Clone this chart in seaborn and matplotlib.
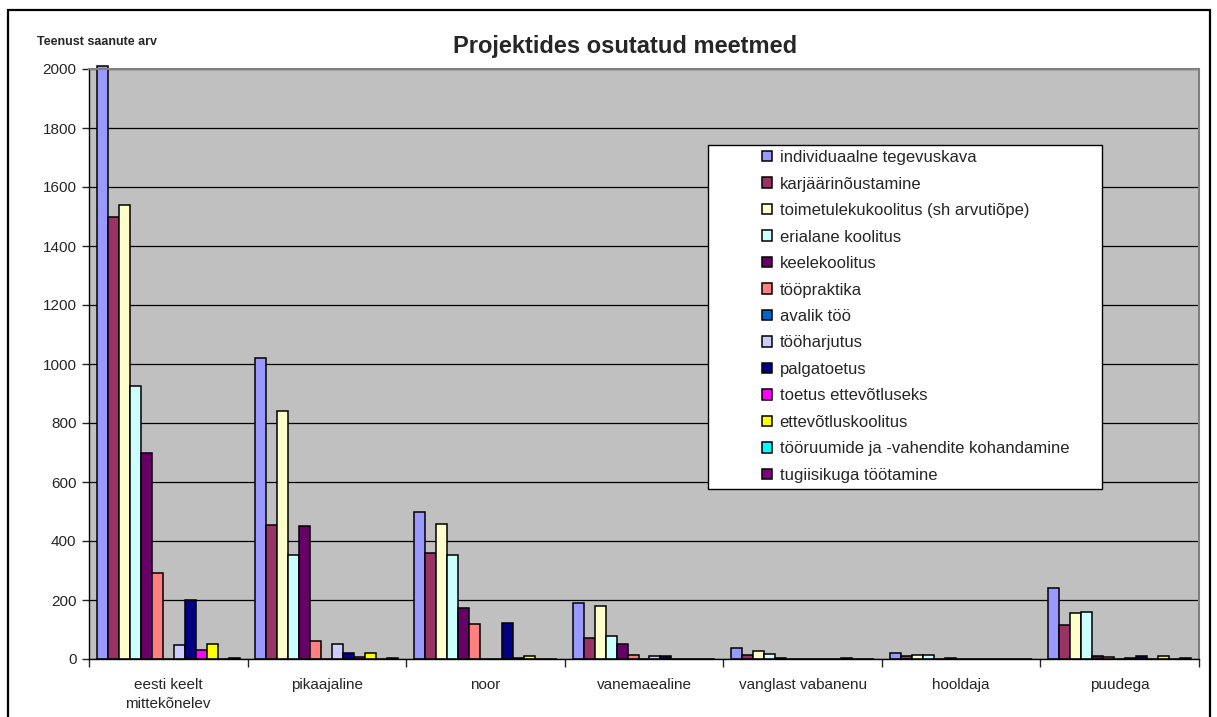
import pandas as pd
import matplotlib.pyplot as plt
from matplotlib.patches import Rectangle
import seaborn as sns

# categories (target groups) and series (services)
kategooriad = ['eesti keelt\nmittekõnelev', 'pikaajaline', 'noor', 'vanemaealine',
               'vanglast vabanenu', 'hooldaja', 'puudega']

individuaalne = [2010, 1020, 500, 190, 36, 20, 240]
karjaar = [1500, 455, 358, 70, 15, 10, 115]
toimetulek = [1540, 840, 458, 178, 26, 15, 157]
erialane = [925, 353, 353, 78, 16, 12, 159]
keele = [700, 450, 174, 52, 5, 0, 10]
toopraktika = [292, 62, 119, 15, 0, 3, 8]
avalik = [0, 0, 0, 0, 0, 0, 0]
tooharjutus = [48, 52, 0, 9, 0, 0, 3]
palgatoetus = [200, 20, 121, 11, 0, 0, 11]
toetus_ettev = [30, 8, 3, 0, 0, 0, 0]
ettev_koolitus = [52, 20, 10, 0, 3, 0, 9]
tooruumid = [0, 0, 0, 0, 0, 0, 0]
tugiisik = [4, 4, 0, 0, 0, 0, 5]

meetmed = ['individuaalne tegevuskava', 'karjäärinõustamine',
           'toimetulekukoolitus (sh arvutiõpe)', 'erialane koolitus',
           'keelekoolitus', 'tööpraktika', 'avalik töö', 'tööharjutus',
           'palgatoetus', 'toetus ettevõtluseks', 'ettevõtluskoolitus',
           'tööruumide ja -vahendite kohandamine', 'tugiisikuga töötamine']
seeriad = [individuaalne, karjaar, toimetulek, erialane, keele, toopraktika,
           avalik, tooharjutus, palgatoetus, toetus_ettev, ettev_koolitus,
           tooruumid, tugiisik]
varvid = ['#9999FF', '#993366', '#FFFFCC', '#CCFFFF', '#660066', '#FF8080',
          '#0066CC', '#CCCCFF', '#000080', '#FF00FF', '#FFFF00', '#00FFFF',
          '#800080']

rows = []
for m, vals in zip(meetmed, seeriad):
    for k, v in zip(kategooriad, vals):
        rows.append({'kategooria': k, 'meede': m, 'arv': v})
df = pd.DataFrame(rows)

sns.set_style("ticks")
plt.rcParams['font.family'] = ['Liberation Sans', 'DejaVu Sans']

W, H = 1217, 717
fig = plt.figure(figsize=(W / 100, H / 100), dpi=100)
ax = fig.add_axes([89 / W, 1 - 659 / H, (1199 - 89) / W, (659 - 69) / H])

sns.barplot(data=df, x='kategooria', y='arv', hue='meede', order=kategooriad,
            hue_order=meetmed, palette=varvid, saturation=1, width=0.9,
            edgecolor='black', linewidth=1.1, errorbar=None, legend=True, ax=ax)

for p in ax.patches:
    p.set_clip_on(False)

ax.set_facecolor('#C0C0C0')
ax.set_ylim(0, 2000)
ax.set_xlim(-0.5, 6.5)
ax.set_yticks(range(0, 2001, 200))
ax.yaxis.grid(True, color='black', linewidth=0.9)
ax.set_axisbelow(True)
ax.tick_params(axis='y', labelsize=11, length=5, width=1, direction='out', pad=4)
ax.set_xticks(range(len(kategooriad)))
ax.set_xticklabels(kategooriad, fontsize=11, linespacing=1.45)
ax.set_xticks([i - 0.5 for i in range(len(kategooriad) + 1)], minor=True)
ax.tick_params(axis='x', which='major', length=0, pad=14)
ax.tick_params(axis='x', which='minor', length=6, width=1, direction='out')
ax.set_xlabel('')
ax.set_ylabel('')
for s in ['left', 'bottom']:
    ax.spines[s].set_color('black')
    ax.spines[s].set_linewidth(1)
for s in ['top', 'right']:
    ax.spines[s].set_color('#808080')
    ax.spines[s].set_linewidth(1.5)

# legend in a white box
box = Rectangle((708 / W, 1 - 489 / H), (1102 - 708) / W, (489 - 145) / H,
                transform=fig.transFigure, facecolor='white', edgecolor='black',
                linewidth=1, zorder=6)
fig.patches.append(box)
handles, labels = ax.get_legend_handles_labels()
ax.get_legend().remove()
leg = fig.legend(handles, labels, loc='upper left', frameon=False,
                 bbox_to_anchor=(762 / W, 1 - 150 / H), fontsize=12,
                 handlelength=0.6, handleheight=0.6, handletextpad=0.45,
                 labelspacing=0.69, borderpad=0, borderaxespad=0)
leg.set_zorder(7)

fig.text(625 / W, 1 - 46 / H, 'Projektides osutatud meetmed', ha='center',
         va='center', fontsize=17, fontweight='bold')
fig.text(37 / W, 1 - 42 / H, 'Teenust saanute arv', ha='left', va='center',
         fontsize=9, fontweight='bold')

# outer chart frame
frame = Rectangle((8 / W, -0.1), (1210 - 8) / W, 1.1 - 10 / H,
                  transform=fig.transFigure, facecolor='none', edgecolor='black',
                  linewidth=1.6, zorder=0)
fig.patches.append(frame)

fig.savefig('out.png', dpi=100)
